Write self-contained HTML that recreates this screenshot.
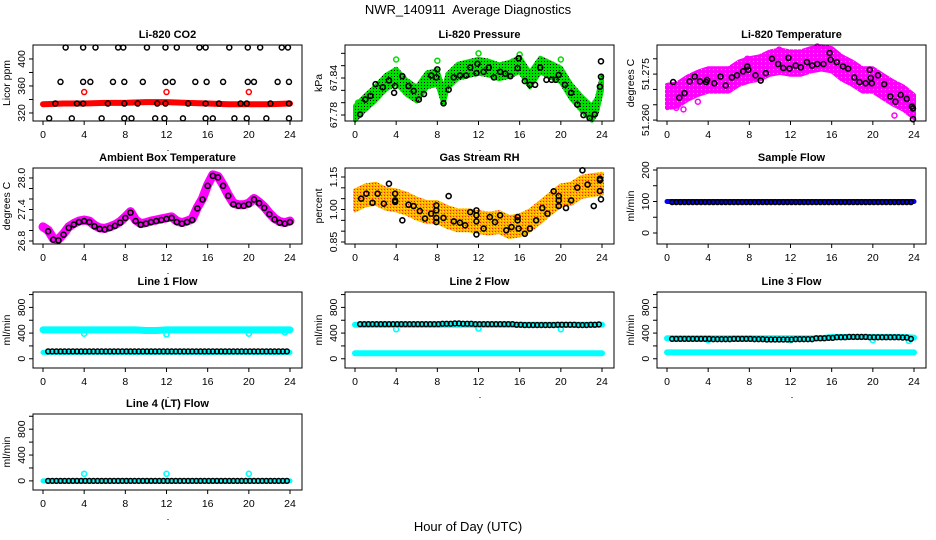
<!DOCTYPE html>
<html><head><meta charset="utf-8"><style>
html,body{margin:0;padding:0;background:#fff;}
svg{display:block;font-family:"Liberation Sans",Arial,sans-serif;}
</style></head><body>
<svg id="chart" width="936" height="540" viewBox="0 0 936 540">
<defs>
<pattern id="pGreen" width="3" height="3" patternUnits="userSpaceOnUse"><rect width="3" height="3" fill="#00e000"/><rect x="1" y="1" width="1" height="1" fill="#000"/></pattern>
<pattern id="pMag" width="4" height="4" patternUnits="userSpaceOnUse"><rect width="4" height="4" fill="#ff00ff"/><rect x="1" y="1" width="1" height="1" fill="#ff88ff"/></pattern>
<pattern id="pRH" width="3" height="3" patternUnits="userSpaceOnUse"><rect width="3" height="3" fill="#ffb000"/><rect width="1" height="1" fill="#ff2200"/><rect x="2" y="1" width="1" height="1" fill="#ffee00"/></pattern>
</defs>
<text x="468" y="14" text-anchor="middle" font-size="13" xml:space="preserve">NWR_140911  Average Diagnostics</text>
<text x="468" y="531" text-anchor="middle" font-size="13">Hour of Day (UTC)</text>
</svg>
<script>
// ---------- DATA ----------
const xTicks = [0,4,8,12,16,20,24];
// CO2
const co2BandHours = [0,2,4,6,8,10,12,14,16,18,20,22,24];
const co2BandVals  = [333,334,334,335,335,336,336,335,334,333,333,333,334];
const co2Row1Hours = [2.2,3.9,5.1,7.3,7.8,10.1,11.9,13.0,15.2,15.8,18.1,19.9,21.1,23.2,23.8];
const co2Row2Hours = [1.7,3.9,4.6,6.8,7.9,9.7,11.9,12.6,14.8,15.9,17.5,19.9,20.5,22.8,23.9];
const co2Row3Hours = [1.2,3.3,3.9,6.3,7.9,9.2,11.1,11.9,14.1,15.8,17.1,19.2,19.8,22.1,23.9];
const co2Row4Hours = [0.6,2.8,5.7,7.9,8.6,10.9,11.8,13.6,15.8,16.5,18.6,19.8,21.7,23.9];
const co2RowVals = [417, 366, 334, 312];
const co2RedHours = [4,12,20];
const co2RedVals = [351,351,351];
// Pressure
const presBandHours = [0,1,2,3,4,5,6,7,8,8.6,9,10,11,12,13,14,15,16,17,18,19,20,21,22,23,23.5,24];
const presBandVals  = [67.783,67.800,67.815,67.833,67.843,67.825,67.814,67.837,67.841,67.810,67.835,67.851,67.855,67.859,67.856,67.850,67.854,67.862,67.837,67.861,67.853,67.845,67.818,67.799,67.783,67.795,67.832];
const presSpread = 0.012;
const presPtHours = [0.5,1.0,1.5,2.0,2.7,3.3,3.8,3.9,4.6,5.2,5.7,6.2,6.7,7.4,7.9,8.0,8.6,9.1,9.6,10.2,10.8,11.2,11.8,11.9,12.5,13.0,13.5,14.1,14.6,15.1,15.8,15.9,16.5,17.0,17.5,18.0,18.6,19.1,19.5,19.8,20.4,21.0,21.6,22.2,22.8,23.3,23.8,23.9,23.9];
const presPtVals  = [67.781,67.805,67.811,67.830,67.825,67.836,67.816,67.827,67.843,67.827,67.819,67.805,67.814,67.844,67.841,67.854,67.799,67.821,67.841,67.844,67.844,67.857,67.848,67.863,67.850,67.857,67.841,67.850,67.847,67.843,67.856,67.872,67.835,67.829,67.829,67.857,67.837,67.837,67.837,67.845,67.829,67.816,67.797,67.780,67.775,67.781,67.826,67.842,67.867];
const presOutHours = [0.3,4.0,8.0,12.0,16.0,20.0];
const presOutVals  = [67.800,67.870,67.868,67.880,67.878,67.870];
// Li-820 temperature
const tempBandHours = [0,1,2,3,4,5,6,7,8,9,10,11,12,13,14,15,16,17,18,19,20,21,22,23,24];
const tempBandVals  = [51.2677,51.2682,51.2704,51.2720,51.2731,51.2731,51.2731,51.2753,51.2764,51.2770,51.2786,51.2792,51.2786,51.2786,51.2797,51.2803,51.2797,51.2770,51.2753,51.2731,51.2731,51.2709,51.2688,51.2671,51.2644];
const tempSpread = 0.0038;
const tempPtHours = [0.6,1.2,1.7,2.2,2.7,3.2,3.8,3.9,4.6,5.2,5.7,6.3,6.8,7.4,7.8,7.9,8.6,9.1,9.6,10.2,10.8,11.3,11.8,11.9,12.5,13.0,13.6,14.1,14.6,15.2,15.8,15.9,16.5,17.1,17.6,18.2,18.7,19.3,19.7,19.8,19.9,20.5,21.1,21.7,22.2,22.7,23.3,23.8,23.9,23.9];
const tempPtVals  = [51.2724,51.2673,51.2688,51.2726,51.2742,51.2726,51.2724,51.2731,51.2720,51.2742,51.2713,51.2739,51.2746,51.2759,51.2775,51.2764,51.2746,51.2729,51.2753,51.2800,51.2783,51.2770,51.2803,51.2768,51.2778,51.2772,51.2789,51.2778,51.2783,51.2783,51.2819,51.2797,51.2789,51.2775,51.2768,51.2739,51.2724,51.2720,51.2764,51.2737,51.2720,51.2746,51.2717,51.2677,51.2660,51.2682,51.2669,51.2644,51.2638,51.2603];
const tempOutHours = [14.6,7.8,22.1,0.9,1.6,3.0,10.9];
const tempOutVals  = [51.2840,51.2800,51.2615,51.2640,51.2635,51.2660,51.2830];
// Ambient box temperature
const ambHours = [0,0.5,1,1.5,2,2.5,3,3.5,4,4.5,5,5.5,6,6.5,7,7.5,8,8.5,9,9.5,10,10.5,11,11.5,12,12.5,13,13.5,14,14.5,15,15.5,16,16.5,17,17.5,18,18.5,19,19.5,20,20.5,21,21.5,22,22.5,23,23.5,24];
const ambVals  = [27.07,27.005,26.845,26.832,26.94,27.07,27.134,27.18,27.20,27.18,27.10,27.05,27.04,27.07,27.11,27.17,27.26,27.36,27.20,27.13,27.15,27.18,27.20,27.22,27.24,27.26,27.18,27.15,27.18,27.22,27.44,27.61,27.87,28.06,28.03,27.87,27.68,27.52,27.49,27.49,27.52,27.61,27.54,27.45,27.33,27.23,27.17,27.15,27.18];
// Gas stream RH
const rhBandHours = [0,1,2,3,4,5,6,7,8,9,10,11,12,13,14,15,16,17,18,19,20,21,22,23,24];
const rhBandVals  = [1.042,1.065,1.073,1.050,1.042,1.027,1.004,0.988,0.988,0.965,0.950,0.950,0.942,0.935,0.942,0.919,0.927,0.950,0.988,1.027,1.065,1.073,1.104,1.112,1.119];
const rhSpread = 0.046;
const rhPtHours = [0.6,1.1,1.7,2.2,2.8,3.3,3.9,3.9,3.9,4.6,5.2,5.7,6.3,6.8,7.4,7.9,7.9,7.9,7.9,8.6,9.1,9.6,10.2,10.7,11.2,11.8,11.8,11.8,11.8,12.5,13.1,13.6,14.1,14.7,15.2,15.8,15.8,15.9,16.5,17.0,17.6,18.2,18.7,19.3,19.8,19.8,19.8,20.5,21.0,21.6,22.1,22.6,23.2,23.8,23.8,23.8,23.9];
const rhPtVals  = [1.050,1.073,1.031,1.073,1.027,1.119,1.073,1.042,1.035,0.950,1.022,1.016,0.993,0.958,0.981,1.019,0.996,0.961,0.942,0.961,1.062,0.945,0.939,0.927,0.988,0.996,0.973,0.945,0.885,0.912,0.965,0.942,0.973,0.904,0.919,0.965,0.950,0.912,0.888,0.912,0.950,1.007,0.981,1.084,1.062,1.042,1.016,1.007,1.042,1.101,1.181,1.115,1.016,1.142,1.135,1.085,1.047];
// Flows (hourly levels, hours 0..24)
const sampleBlue  = [100,100,100,100,100,100,100,100,100,100,100,100,100,100,100,100,100,100,100,100,100,100,100,100,100];
const sampleBlack = [98,98,98,98,98,98,98,98,98,98,98,98,98,98,98,98,98,98,98,98,98,98,98,98,98];
const l1CyanHigh = [450,450,450,450,450,450,450,450,450,450,440,440,450,450,450,450,450,450,450,450,450,450,450,450,450];
const l1CyanLow  = [100,100,100,100,100,100,100,100,100,100,100,100,100,100,100,100,100,100,100,100,100,100,100,100,100];
const l1Black    = [115,115,115,115,115,115,115,115,115,115,115,115,115,115,115,115,115,115,115,115,115,115,115,115,115];
const l1OutHours = [4,12,20,23.5]; const l1OutVals = [390,380,390,410];
const l2CyanHigh = [530,530,530,530,530,530,530,530,530,530,530,530,530,530,530,530,530,530,530,530,530,530,530,530,530];
const l2CyanLow  = [85,85,85,85,85,85,85,85,85,85,85,85,85,85,85,85,85,85,85,85,85,85,85,85,85];
const l2Black    = [540,540,540,540,540,540,540,540,540,545,550,545,540,540,540,540,530,525,525,525,530,530,525,530,535];
const l2OutHours = [4,12,20]; const l2OutVals = [460,470,460];
const l3CyanHigh = [320,320,320,320,320,320,320,320,320,320,320,320,320,320,320,320,340,340,340,340,340,340,340,340,330];
const l3CyanLow  = [100,100,100,100,100,100,100,100,100,100,100,100,100,100,100,100,100,100,100,100,100,100,100,100,100];
const l3Black    = [310,310,310,310,310,305,305,310,310,305,300,300,300,305,305,320,325,335,340,340,335,335,335,330,310];
const l3OutHours = [4,12,20,23.5]; const l3OutVals = [290,290,290,280];
const l4Cyan  = [0,0,0,0,0,0,0,0,0,0,0,0,0,0,0,0,0,0,0,0,0,0,0,0,0];
const l4Black = [0,0,0,0,0,0,0,0,0,0,0,0,0,0,0,0,0,0,0,0,0,0,0,0,0];
const l4OutHours = [4,12,20]; const l4OutVals = [110,110,110];
// Tick definitions
const co2Ticks = [320,340,360,380,400]; const co2Labels = ["320","","360","","400"];
const presTicks = [67.78,67.80,67.82,67.84,67.86,67.88]; const presLabels = ["67.78","","","67.84","",""];
const tempTicks = [51.260,51.265,51.270,51.275,51.280]; const tempLabels = ["51.260","","","51.275",""];
const ambTicks = [26.8,27.0,27.2,27.4,27.6,27.8,28.0]; const ambLabels = ["26.8","","","27.4","","","28.0"];
const rhTicks = [0.85,0.90,0.95,1.00,1.05,1.10,1.15]; const rhLabels = ["0.85","","","1.00","","","1.15"];
const sampTicks = [0,50,100,150,200]; const sampLabels = ["0","","100","","200"];
const flowTicks = [0,200,400,600,800,1000]; const flowLabels = ["0","","400","","800",""];

// ---------- DRAWING ----------
const NS = "http://www.w3.org/2000/svg";
const svg = document.getElementById('chart');
function mk(tag, attrs, parent){const e=document.createElementNS(NS,tag);for(const k in attrs)e.setAttribute(k,attrs[k]);(parent||svg).appendChild(e);return e;}
const COLS=[33,345,657], ROWS=[45,168,292,414], W=269, H=76;

function panel(name, col, row, title, ylab, ylim, ticks, labels){
  const L=COLS[col], T=ROWS[row], B=T+H, R=L+W;
  const g=mk('g',{});
  
  
  const x=h=>L+10+h*(247/24);
  const y=v=>B-(v-ylim[0])/(ylim[1]-ylim[0])*H;
  const plot=mk('g',{},g);
  
  
  const box=mk('rect',{x:L,y:T,width:W,height:H,fill:'none',stroke:'#000','stroke-width':1},g);
  
  
  const t=mk('text',{x:L+W/2,y:T-7,'text-anchor':'middle','font-size':11,'font-weight':'bold'},g);
  t.textContent=title;
  
  
  const xa=mk('g',{},g);
  
  
  mk('line',{x1:x(0),x2:x(24),y1:B,y2:B,stroke:'#000'},xa);
  xTicks.forEach(v=>{
    mk('line',{x1:x(v),x2:x(v),y1:B,y2:B+4,stroke:'#000'},xa);
    const tl=mk('text',{x:x(v),y:B+17,'text-anchor':'middle','font-size':10.5},xa);
    tl.textContent=v;
    
    
  });
  mk('rect',{x:x(12)+1,y:B+29,width:1,height:1,fill:'#000'},xa);
  const ya=mk('g',{},g);
  
  
  mk('line',{x1:L,x2:L,y1:y(ticks[0]),y2:y(ticks[ticks.length-1]),stroke:'#000'},ya);
  ticks.forEach((v,i)=>{
    mk('line',{x1:L-4,x2:L,y1:y(v),y2:y(v),stroke:'#000'},ya);
    if(labels[i]){
      const tl=mk('text',{transform:`translate(${L-8},${y(v)}) rotate(-90)`,'text-anchor':'middle','font-size':10.5},ya);
      tl.textContent=labels[i];
      
      
    }
  });
  const yl=mk('text',{transform:`translate(${L-23},${T+H/2}) rotate(-90)`,'text-anchor':'middle','font-size':10.5},g);
  yl.textContent=ylab;
  
  
  return {x,y,g:plot};
}
function circles(p, hours, vals, color, r, sw, nm){
  hours.forEach((h,i)=>{
    const c=mk('circle',{cx:p.x(h),cy:p.y(vals[i]),r:r||2.5,fill:'none',stroke:color,'stroke-width':sw||1.5},p.g);
    
    
  });
}
function band(p, hours, vals, spread, fill, nm){
  let d='';
  hours.forEach((h,i)=>{d+=(i?'L':'M')+p.x(h)+','+p.y(vals[i]+spread);});
  for(let i=hours.length-1;i>=0;i--) d+='L'+p.x(hours[i])+','+p.y(vals[i]-spread);
  const e=mk('path',{d:d+'Z',fill:fill,stroke:fill,'stroke-width':4,'stroke-linejoin':'round'},p.g);
  
  
}
function line(p, hours, vals, color, w, nm){
  const pts=hours.map((h,i)=>p.x(h)+','+p.y(vals[i])).join(' ');
  const e=mk('polyline',{points:pts,fill:'none',stroke:color,'stroke-width':w,'stroke-linecap':'round','stroke-linejoin':'round'},p.g);
  
  
}
const HOURS25=[...Array(25).keys()];
function stepCircles(p, levels, color, nm){
  const hs=[], vs=[];
  for(let t=0.5;t<=23.95;t+=0.4){hs.push(t);vs.push(levels[Math.round(t)]);}
  circles(p, hs, vs, color, 2.4, 1.5, nm);
}

// Panel 1: CO2
let p=panel('co2',0,0,'Li-820 CO2','Licor ppm',[308.1,420.7],co2Ticks,co2Labels);
line(p,co2BandHours,co2BandVals,'#ff0000',6,'co2-red-series');
[co2Row1Hours,co2Row2Hours,co2Row3Hours,co2Row4Hours].forEach((hs,k)=>circles(p,hs,hs.map(()=>co2RowVals[k]),'#000',2.5,1.5,'co2-black-point'));
circles(p,co2RedHours,co2RedVals,'#ff0000',2.5,1.5,'co2-red-point');

// Panel 2: Pressure
p=panel('pressure',1,0,'Li-820 Pressure','kPa',[67.7703,67.8935],presTicks,presLabels);
band(p,presBandHours,presBandVals,presSpread,'url(#pGreen)','pressure-green-series');
circles(p,presOutHours,presOutVals,'#00dd00',2.5,1.5,'pressure-green-point');
circles(p,presPtHours,presPtVals,'#000',2.5,1.6,'pressure-black-point');

// Panel 3: Temperature
p=panel('li820-temp',2,0,'Li-820 Temperature','degrees C',[51.2597,51.2845],tempTicks,tempLabels);
band(p,tempBandHours,tempBandVals,tempSpread,'url(#pMag)','temp-magenta-series');
circles(p,tempOutHours,tempOutVals,'#ff00ff',2.5,1.5,'temp-magenta-point');
circles(p,tempPtHours,tempPtVals,'#000',2.5,1.6,'temp-black-point');

// Panel 4: Ambient
p=panel('ambient',0,1,'Ambient Box Temperature','degrees C',[26.743,28.19],ambTicks,ambLabels);
line(p,ambHours,ambVals,'#ff00ff',9,'ambient-magenta-series');
circles(p,ambHours.slice(1),ambVals.slice(1).map(v=>v-0.02),'#000',2.5,1.6,'ambient-black-point');

// Panel 5: RH
p=panel('rh',1,1,'Gas Stream RH','percent',[0.8408,1.1915],rhTicks,rhLabels);
band(p,rhBandHours,rhBandVals,rhSpread,'url(#pRH)','rh-orange-series');
circles(p,rhPtHours,rhPtVals,'#000',2.5,1.6,'rh-black-point');

// Panel 6: Sample flow
p=panel('sample-flow',2,1,'Sample Flow','ml/min',[-34.9,206.3],sampTicks,sampLabels);
line(p,HOURS25,sampleBlue,'#0000ff',5,'sample-blue-series');
stepCircles(p,sampleBlack,'#000','sample-black-point');

// Panel 7: Line 1
p=panel('line1-flow',0,2,'Line 1 Flow','ml/min',[-144,1040],flowTicks,flowLabels);
line(p,HOURS25,l1CyanHigh,'#00ffff',7,'line1-cyan-high');
line(p,HOURS25,l1CyanLow,'#00ffff',5,'line1-cyan-low');
circles(p,l1OutHours,l1OutVals,'#00ffff',2.5,1.6,'line1-cyan-point');
stepCircles(p,l1Black,'#000','line1-black-point');

// Panel 8: Line 2
p=panel('line2-flow',1,2,'Line 2 Flow','ml/min',[-144,1040],flowTicks,flowLabels);
line(p,HOURS25,l2CyanHigh,'#00ffff',6,'line2-cyan-high');
line(p,HOURS25,l2CyanLow,'#00ffff',6,'line2-cyan-low');
circles(p,l2OutHours,l2OutVals,'#00ffff',2.5,1.6,'line2-cyan-point');
stepCircles(p,l2Black,'#000','line2-black-point');

// Panel 9: Line 3
p=panel('line3-flow',2,2,'Line 3 Flow','ml/min',[-144,1040],flowTicks,flowLabels);
line(p,HOURS25,l3CyanHigh,'#00ffff',6,'line3-cyan-high');
line(p,HOURS25,l3CyanLow,'#00ffff',6,'line3-cyan-low');
circles(p,l3OutHours,l3OutVals,'#00ffff',2.5,1.6,'line3-cyan-point');
stepCircles(p,l3Black,'#000','line3-black-point');

// Panel 10: Line 4
p=panel('line4-flow',0,3,'Line 4 (LT) Flow','ml/min',[-141,1035],flowTicks,flowLabels);
line(p,HOURS25,l4Cyan,'#00ffff',5,'line4-cyan-series');
circles(p,l4OutHours,l4OutVals,'#00ffff',2.5,1.6,'line4-cyan-point');
stepCircles(p,l4Black,'#000','line4-black-point');
</script>
</body></html>
